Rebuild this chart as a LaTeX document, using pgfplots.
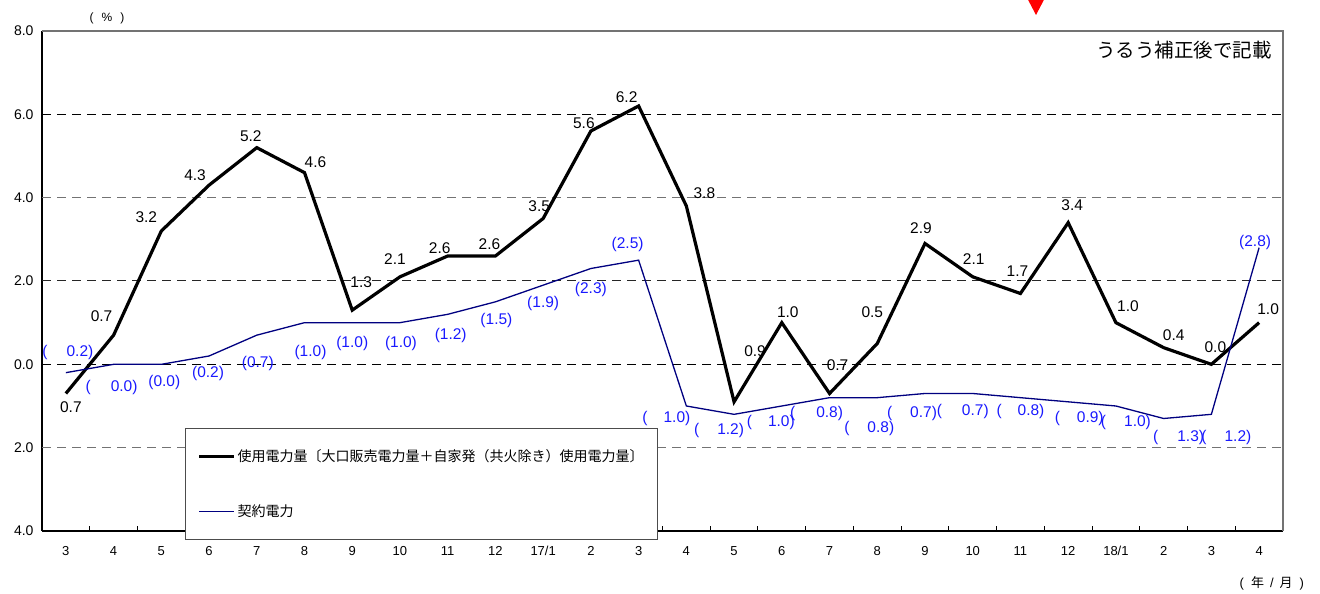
\documentclass[border=0pt]{standalone}
\usepackage{fontspec}
\setmainfont{Liberation Sans}
\newfontfamily\jp{Noto Sans CJK JP}
\usepackage{pgfplots}
\usepackage{pgfplotstable}
\pgfplotsset{compat=1.18}
\definecolor{navyline}{RGB}{0,0,128}
\definecolor{lblblue}{RGB}{25,25,255}

\pgfplotstableread{
x y lab dx dy
0 -0.7 0.7 5 -14
1 0.7 0.7 -12 19
2 3.2 3.2 -15 14
3 4.3 4.3 -14 10
4 5.2 5.2 -6 11
5 4.6 4.6 11 10
6 1.3 1.3 9 28
7 2.1 2.1 -5 18
8 2.6 2.6 -8 8
9 2.6 2.6 -6 12
10 3.5 3.5 -4 12
11 5.6 5.6 -7 8
12 6.2 6.2 -12 9
13 3.8 3.8 18 13
14 -0.9 0.9 21 51
15 1.0 1.0 6 10
16 -0.7 0.7 8 28
17 0.5 0.5 -5 31
18 2.9 2.9 -4 15
19 2.1 2.1 1 18
20 1.7 1.7 -3 22
21 3.4 3.4 4 17
22 1.0 1.0 12 16
23 0.4 0.4 10 12
24 0.0 0.0 4 17
25 1.0 1.0 9 13
}\blacktab

\pgfplotstableread{
x y lab gap dx dy
0 -0.2 0.2 19 2 20
1 0.0 0.0 20 -2 -23
2 0.0 0.0 0 3 -18
3 0.2 0.2 0 -1 -17
4 0.7 0.7 0 1 -28
5 1.0 1.0 0 6 -30
6 1.0 1.0 0 0 -21
7 1.0 1.0 0 1 -21
8 1.2 1.2 0 3 -21
9 1.5 1.5 0 1 -19
10 1.9 1.9 0 0 -18
11 2.3 2.3 0 0 -21
12 2.5 2.5 0 -11 16
13 -1.0 1.0 16 -20 -12
14 -1.2 1.2 18 -15 -16
15 -1.0 1.0 16 -11 -16
16 -0.8 0.8 21 -13 -16
17 -0.8 0.8 18 -8 -31
18 -0.7 0.7 18 -13 -20
19 -0.7 0.7 20 -10 -18
20 -0.8 0.8 16 0 -14
21 -0.9 0.9 17 11 -17
22 -1.0 1.0 18 10 -16
23 -1.3 1.3 19 15 -19
24 -1.2 1.2 18 15 -23
25 2.8 2.8 0 -4 5
}\bluetab

\begin{document}
\begin{tikzpicture}
\path[use as bounding box] (-42pt,-63pt) rectangle (1278pt,531pt);
\begin{axis}[
  at={(0pt,0pt)}, anchor=south west,
  scale only axis, width=1241pt, height=500pt,
  xmin=-0.5, xmax=25.5, ymin=-4, ymax=8,
  axis lines*=left,
  axis line style={-, line width=1.3pt, black},
  tick align=inside,
  xtick={0,...,25},
  xticklabels={3,4,5,6,7,8,9,10,11,12,17/1,2,3,4,5,6,7,8,9,10,11,12,18/1,2,3,4},
  minor xtick={0.5,1.5,...,24.5},
  major tick length=0pt,
  minor tick length=5pt,
  minor x tick style={black, line width=1pt},
  ytick={-4,-2,0,2,4,6,8},
  yticklabels={4.0,2.0,0.0,2.0,4.0,6.0,8.0},
  xticklabel style={font=\fontsize{13}{15}\selectfont, anchor=center, yshift=-20pt},
  yticklabel style={font=\fontsize{14}{16}\selectfont, anchor=east, xshift=-5pt},
  /pgf/number format/assume math mode=true,
  clip=false,
  legend style={at={(axis description cs:0.1152,0.206)}, anchor=north west,
    draw=black!70, line width=1pt, fill=white,
    inner xsep=12pt, inner ysep=19pt, row sep=38pt,
    nodes={inner sep=2pt},
    font=\jp\fontsize{14}{16}\selectfont},
  legend cell align=left,
  legend image code/.code={\draw[#1] (0pt,0pt) -- (35pt,0pt);},
]
\draw[black, line width=1pt, dash pattern=on 9pt off 6pt] (axis cs:-0.5,6) -- (axis cs:25.5,6);
\draw[black!55, line width=1pt, dash pattern=on 9pt off 6pt] (axis cs:-0.5,4) -- (axis cs:25.5,4);
\draw[black!85, line width=1pt, dash pattern=on 9pt off 6pt] (axis cs:-0.5,2) -- (axis cs:25.5,2);
\draw[black, line width=1pt, dash pattern=on 9pt off 6pt] (axis cs:-0.5,0) -- (axis cs:25.5,0);
\draw[black!55, line width=1pt, dash pattern=on 9pt off 6pt] (axis cs:-0.5,-2) -- (axis cs:25.5,-2);
\draw[black!55, line width=1.3pt] (rel axis cs:0,1) -- (rel axis cs:1,1) -- (rel axis cs:1,0);

\addplot[black, line width=3.2pt,
  point meta=explicit symbolic,
  nodes near coords={\pgfplotspointmeta},
  visualization depends on={\thisrow{dx}\as\ldx},
  visualization depends on={\thisrow{dy}\as\ldy},
  every node near coord/.append style={anchor=center, xshift=\ldx pt, yshift=\ldy pt,
    text=black, font=\fontsize{15.5}{18}\selectfont, inner sep=0pt}]
  table[x=x, y=y, meta=lab] {\blacktab};
\addlegendentry{使用電力量〔大口販売電力量＋自家発（共火除き）使用電力量〕}

\addplot[navyline, line width=1.3pt,
  point meta=explicit symbolic,
  nodes near coords={(\hspace{\lgap pt}\pgfplotspointmeta)},
  visualization depends on={\thisrow{gap}\as\lgap},
  visualization depends on={\thisrow{dx}\as\ldx},
  visualization depends on={\thisrow{dy}\as\ldy},
  every node near coord/.append style={anchor=center, xshift=\ldx pt, yshift=\ldy pt,
    text=lblblue, font=\fontsize{15.5}{18}\selectfont, inner sep=0pt}]
  table[x=x, y=y, meta=lab] {\bluetab};
\addlegendentry{契約電力}

\node[anchor=east, font=\jp\fontsize{19.5}{22}\selectfont] at (axis description cs:0.9936,0.962) {うるう補正後で記載};
\node[font=\fontsize{12}{14}\selectfont] at (axis description cs:0.0524,1.026) {(\hspace{8pt}\%\hspace{8pt})};
\node[font=\fontsize{13}{15}\selectfont] at (axis description cs:0.991,-0.104) {(\hspace{7pt}{\jp 年}\hspace{6pt}/\hspace{6pt}{\jp 月}\hspace{7pt})};
\end{axis}
\fill[red] (983pt,537pt) -- (1005pt,537pt) -- (994pt,516pt) -- cycle;
\end{tikzpicture}
\end{document}
